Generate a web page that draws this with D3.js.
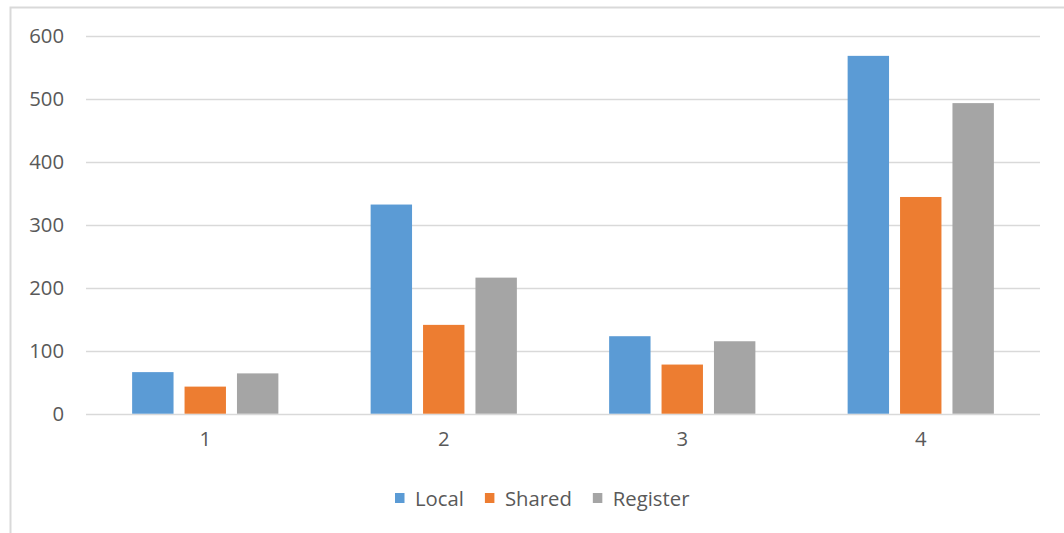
<!DOCTYPE html>
<html>
<head>
<meta charset="utf-8">
<script src="https://cdn.jsdelivr.net/npm/d3@7"></script>
<style>
  html, body { margin: 0; padding: 0; background: #fff; }
  svg { display: block; }
  text { font-family: "Open Sans", "Noto Sans", sans-serif; fill: #595959; }
</style>
</head>
<body>
<svg id="chart" width="1064" height="533"></svg>
<script>
const categories = ["1", "2", "3", "4"];
const seriesNames = ["Local", "Shared", "Register"];
const localValues = [66, 332, 123, 568];
const sharedValues = [43, 141, 78, 344];
const registerValues = [64, 216, 115, 493];
const yTicks = [0, 100, 200, 300, 400, 500, 600];
const seriesColors = ["#5B9BD5", "#ED7D31", "#A5A5A5"];

const seriesValues = [localValues, sharedValues, registerValues];
const rows = categories.map((c, i) => ({
  category: c,
  values: seriesNames.map((s, j) => ({ series: s, value: seriesValues[j][i] }))
}));

const svg = d3.select("#chart");
const plot = { left: 86, right: 1040, top: 35.7, bottom: 413.7 };
const fontSize = 20.3;

// chart frame
svg.append("rect")
  .attr("x", 10.5).attr("y", 7.5)
  .attr("width", 1100).attr("height", 600)
  .attr("fill", "none").attr("stroke", "#D9D9D9").attr("stroke-width", 2);

const y = d3.scaleLinear().domain([0, 600]).range([plot.bottom, plot.top]);
const x0 = d3.scaleBand().domain(categories).range([plot.left, plot.right]).padding(0);
const x1 = d3.scaleBand().domain(seriesNames).range([0, x0.bandwidth()])
  .paddingInner(0.21).paddingOuter(0.88);
const color = d3.scaleOrdinal().domain(seriesNames).range(seriesColors);

// gridlines
svg.append("g").selectAll("line").data(yTicks).join("line")
  .attr("x1", plot.left).attr("x2", plot.right)
  .attr("y1", d => Math.round(y(d)) + 0.5).attr("y2", d => Math.round(y(d)) + 0.5)
  .attr("stroke", "#D9D9D9").attr("stroke-width", 1.3);

// y axis labels
const yAxis = d3.axisLeft(y).tickValues(yTicks).tickSize(0).tickPadding(0);
const gy = svg.append("g").attr("transform", "translate(64,0)").call(yAxis);
gy.select(".domain").remove();
gy.selectAll("text").attr("font-size", fontSize).attr("fill", "#595959")
  .style("font-family", '"Open Sans", sans-serif');

// bars
svg.append("g").selectAll("g").data(rows).join("g")
  .attr("transform", d => `translate(${x0(d.category)},0)`)
  .selectAll("rect").data(d => d.values).join("rect")
  .attr("x", d => x1(d.series))
  .attr("width", x1.bandwidth())
  .attr("y", d => y(d.value))
  .attr("height", d => y(0) - y(d.value))
  .attr("fill", d => color(d.series));

// x axis labels
const xAxis = d3.axisBottom(x0).tickSize(0).tickPadding(0);
const gx = svg.append("g").attr("transform", `translate(0,${plot.bottom + 18})`).call(xAxis);
gx.select(".domain").remove();
gx.selectAll("text").attr("font-size", fontSize).attr("fill", "#595959")
  .style("font-family", '"Open Sans", sans-serif');

// legend
const legend = svg.append("g");
let lx = 395;
seriesNames.forEach(name => {
  legend.append("rect")
    .attr("x", lx).attr("y", 493).attr("width", 9.5).attr("height", 10)
    .attr("fill", color(name));
  const t = legend.append("text")
    .attr("x", lx + 20).attr("y", 505.5)
    .attr("font-size", fontSize)
    .text(name);
  lx += 20 + t.node().getComputedTextLength() + 21;
});
</script>
</body>
</html>
